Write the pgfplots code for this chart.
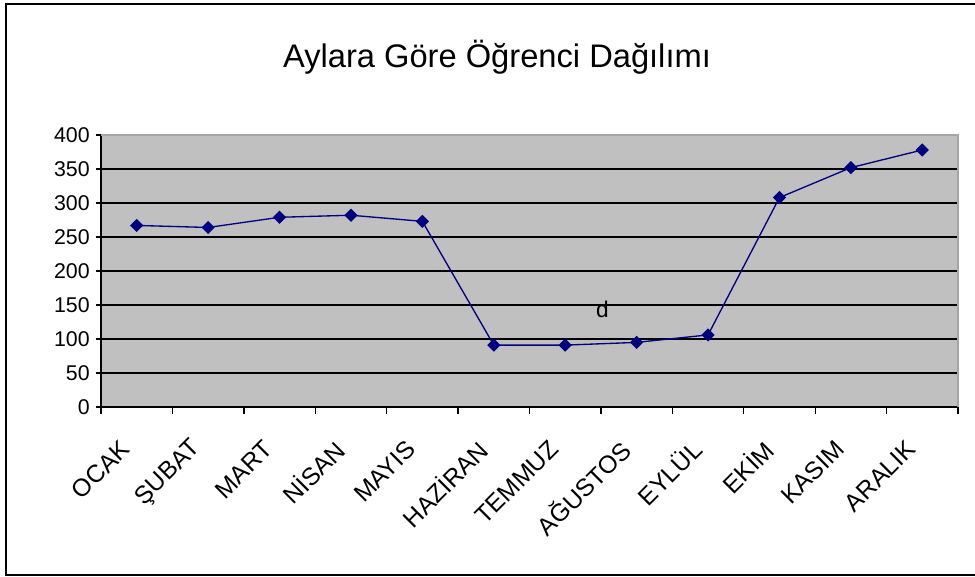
\documentclass[border=0pt]{standalone}
\usepackage{fontspec}
\setmainfont{Liberation Sans}
\usepackage{pgfplots}
\pgfplotsset{compat=1.18}
\definecolor{plotgray}{HTML}{C0C0C0}
\definecolor{navyline}{HTML}{000080}
\begin{document}
\begin{tikzpicture}
\useasboundingbox (-75.75pt,-127.5pt) rectangle (655.5pt,305.25pt);
\fill[white] (-75.75pt,-127.5pt) rectangle (655.5pt,305.25pt);
\draw[black, line width=1.6pt] (660pt,302.25pt) -- (-71.25pt,302.25pt) -- (-71.25pt,-126pt) -- (660pt,-126pt);
\node[font=\fontsize{24.5}{28}\selectfont] at (297pt,262.5pt) {Aylara Göre Öğrenci Dağılımı};
\begin{axis}[
  at={(0pt,0pt)}, anchor=south west,
  scale only axis, width=642.75pt, height=204pt,
  xmin=-0.5, xmax=11.5, ymin=0, ymax=400,
  axis background/.style={fill=plotgray},
  axis x line*=bottom, axis y line*=left,
  axis line style={black, line width=1.2pt},
  ytick={0,50,...,400},
  ymajorgrids, major grid style={black, line width=1.1pt},
  xtick={0,...,11},
  xticklabels={OCAK,ŞUBAT,MART,NİSAN,MAYIS,HAZİRAN,TEMMUZ,AĞUSTOS,EYLÜL,EKİM,KASIM,ARALIK},
  minor xtick={-0.5,0.5,...,11.5},
  major x tick style={draw=none},
  minor x tick style={black, line width=1pt},
  y tick style={black, line width=1pt},
  tick align=outside,
  major tick length=4pt, minor tick length=5.25pt,
  /pgf/number format/assume math mode=true,
  y tick label style={font=\fontsize{16}{18}\selectfont, xshift=-1pt},
  x tick label style={font=\fontsize{18.5}{21}\selectfont, xshift=-6pt, yshift=-22pt, rotate=45, anchor=east},
  clip=false,
]
\draw[gray!70, line width=0.8pt] (axis cs:-0.5,400) -- (axis cs:11.5,400) -- (axis cs:11.5,0);
\addplot[navyline, line width=1pt, mark=square*, mark size=3pt, mark options={fill=navyline, rotate=45}]
coordinates {
(0,267) (1,264) (2,279) (3,282) (4,273) (5,91) (6,91) (7,95) (8,106) (9,308) (10,352) (11,378)
};
\node[font=\fontsize{17}{20}\selectfont] at (axis cs:6.52,143) {d};
\end{axis}
\end{tikzpicture}
\end{document}
